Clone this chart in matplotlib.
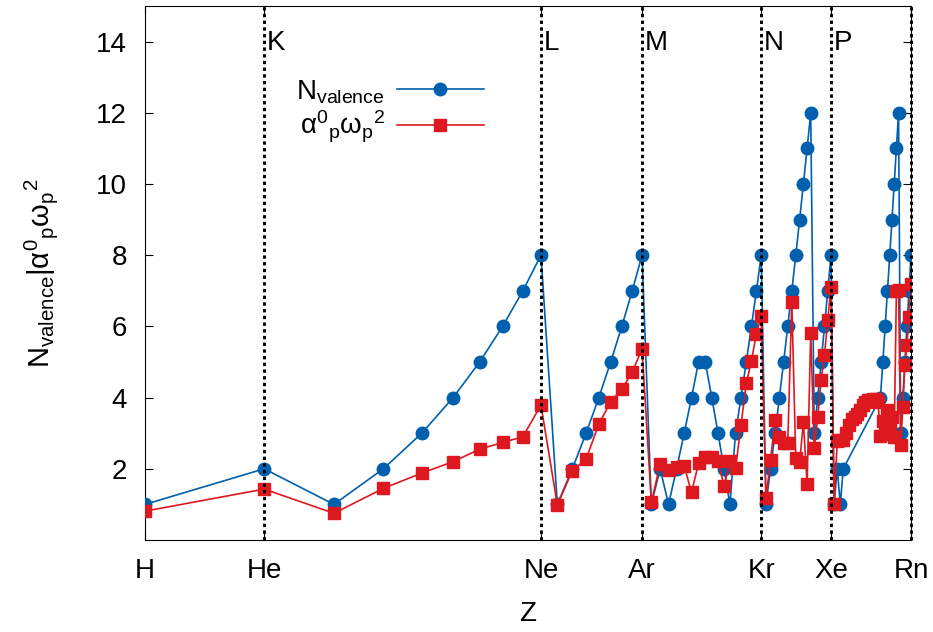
import numpy as np
import matplotlib
matplotlib.use("Agg")
import matplotlib.pyplot as plt
from matplotlib.ticker import NullLocator

plt.rcParams["font.family"] = ["Liberation Sans", "DejaVu Sans"]
plt.rcParams["mathtext.fontset"] = "custom"
plt.rcParams["mathtext.rm"] = "Liberation Sans"
plt.rcParams["mathtext.it"] = "Liberation Sans:italic"
plt.rcParams["mathtext.default"] = "regular"

# ── Data ─────────────────────────────────────────────────────
elements = [
    "H", "He",
    "Li", "Be", "B", "C", "N", "O", "F", "Ne",
    "Na", "Mg", "Al", "Si", "P", "S", "Cl", "Ar",
    "K", "Ca", "Sc", "Ti", "V", "Cr", "Mn", "Fe", "Co", "Ni", "Cu", "Zn",
    "Ga", "Ge", "As", "Se", "Br", "Kr",
    "Rb", "Sr", "Y", "Zr", "Nb", "Mo", "Tc", "Ru", "Rh", "Pd", "Ag", "Cd",
    "In", "Sn", "Sb", "Te", "I", "Xe",
    "Cs", "Ba", "La", "Ce", "Pr", "Nd", "Pm", "Sm", "Eu", "Gd", "Tb", "Dy",
    "Ho", "Er", "Tm", "Yb", "Lu",
    "Hf", "Ta", "W", "Re", "Os", "Ir", "Pt", "Au", "Hg",
    "Tl", "Pb", "Bi", "Po", "At", "Rn",
]

nan = np.nan
n_valence = [
    1, 2,
    1, 2, 3, 4, 5, 6, 7, 8,
    1, 2, 3, 4, 5, 6, 7, 8,
    1, 2, 1, 2, 3, 4, 5, 5, 4, 3, 2, 1,
    3, 4, 5, 6, 7, 8,
    1, 2, 3, 4, 5, 6, 7, 8, 9, 10, 11, 12,
    3, 4, 5, 6, 7, 8,
    1, 2, 1, 2, nan, nan, nan, nan, nan, nan, nan, nan,
    nan, nan, nan, nan, nan,
    4, 5, 6, 7, 8, 9, 10, 11, 12,
    3, 4, 5, 6, 7, 8,
]

alpha_omega = [
    0.81, 1.43,
    0.75, 1.45, 1.88, 2.20, 2.55, 2.74, 2.90, 3.79,
    0.98, 1.95, 2.27, 3.26, 3.88, 4.24, 4.71, 5.37,
    1.06, 2.13, 1.97, 2.06, 2.08, 1.34, 2.15, 2.34, 2.34, 2.22, 1.52, 2.22,
    2.01, 3.23, 4.40, 5.03, 5.80, 6.29,
    1.17, 2.25, 3.37, 2.90, 2.72, 2.72, 6.69, 2.29, 2.18, 3.31, 1.57, 5.81,
    2.58, 3.46, 4.49, 5.20, 6.18, 7.12,
    1.00, 2.78, 2.80, 2.82, 3.00, 3.24, 3.40, 3.45, 3.53, 3.65, 3.78, 3.88,
    3.92, 3.92, 3.95, 3.97, 3.88,
    2.92, 3.35, 2.98, 3.65, 3.09, 3.46, 2.90, 7.00, 7.02,
    2.67, 3.74, 4.92, 5.48, 6.27, 7.20,
]

tick_symbols = ["H", "He", "Ne", "Ar", "Kr", "Xe", "Rn"]
line_symbols = ["He", "Ne", "Ar", "Kr", "Xe", "Rn"]
shell_labels = ["K", "L", "M", "N", "P"]
shell_at = ["He", "Ne", "Ar", "Kr", "Xe"]

BLUE = "#0060ad"
RED = "#dd181f"

z = np.arange(1, len(elements) + 1)
n_valence = np.array(n_valence, dtype=float)
alpha_omega = np.array(alpha_omega, dtype=float)
zpos = {s: i + 1 for i, s in enumerate(elements)}

# ── Figure ───────────────────────────────────────────────────
fig = plt.figure(figsize=(9.33, 6.32), dpi=100)
ax = fig.add_axes([145 / 933, 1 - 540 / 632, (911 - 145) / 933, (540 - 6) / 632])

mask = ~np.isnan(n_valence)
ax.plot(z[mask], n_valence[mask], color=BLUE, lw=1.2, marker="o", ms=9,
        label=r"$N_{valence}$", zorder=3)
ax.plot(z, alpha_omega, color=RED, lw=1.2, marker="s", ms=9.3,
        label=r"$α^{0}{}_{p}ω_{p}{}^{2}$", zorder=4)

for s in line_symbols:
    ax.axvline(zpos[s], color="black", lw=2.1, linestyle=(0, (1.15, 1.15)),
               zorder=6, clip_on=(s != "Rn"))

for lab, s in zip(shell_labels, shell_at):
    ax.annotate(lab, (zpos[s], 14), xytext=(2, -1), textcoords="offset points",
                ha="left", va="center", fontsize=20)

ax.set_xscale("log")
ax.set_xlim(1, 86)
ax.set_ylim(0, 15)
ax.set_xticks([zpos[s] for s in tick_symbols])
ax.set_xticklabels(tick_symbols)
ax.xaxis.set_minor_locator(NullLocator())
ax.set_yticks(range(2, 15, 2))

ax.tick_params(direction="in", top=True, right=True, length=6, width=0.8,
               labelsize=20)
ax.tick_params(axis="x", pad=13)
ax.tick_params(axis="y", pad=13)
for sp in ax.spines.values():
    sp.set_linewidth(0.8)

ax.set_xlabel("Z", fontsize=20, labelpad=12)
ax.set_ylabel(r"$N_{valence}|α^{0}{}_{p}ω_{p}{}^{2}$", fontsize=21, labelpad=26)

ax.legend(loc="center", bbox_to_anchor=(390 / 933, 1 - 111.5 / 632),
          bbox_transform=fig.transFigure, frameon=False, markerfirst=False,
          handlelength=3.1, handletextpad=0.45, labelspacing=0.12, fontsize=20)

fig.savefig("out.png", dpi=100)
